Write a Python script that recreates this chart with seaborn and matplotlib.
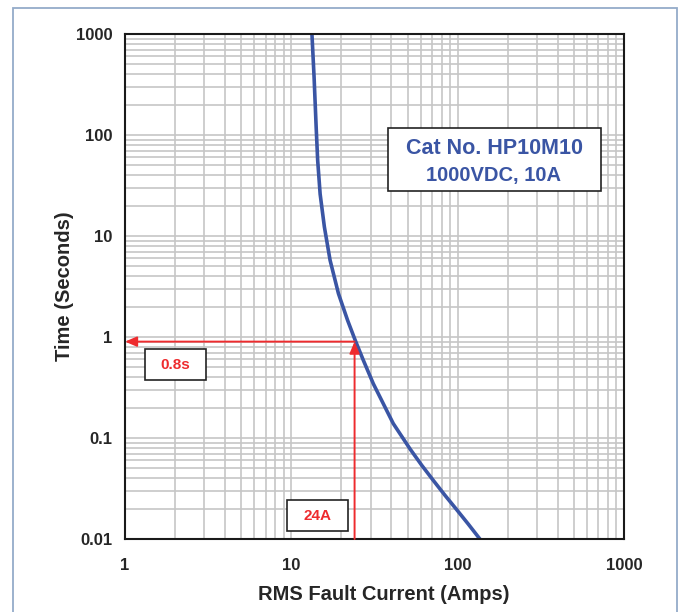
import matplotlib
matplotlib.use("Agg")
import matplotlib.pyplot as plt
from matplotlib.patches import Rectangle
from matplotlib.ticker import LogLocator, NullFormatter, FixedLocator, FixedFormatter
import seaborn as sns
import pandas as pd

# ---- data ----
current_amps = [13.3, 13.7, 14.1, 14.4, 14.9, 15.8, 17.1, 19.2, 21.8, 24.2,
                27.1, 31.1, 35.7, 41.0, 51.7, 60.8, 71.4, 84.0, 98.7, 116.0, 136.0]
time_s = [1000, 375, 120, 56, 26, 12.3, 5.75, 2.69, 1.46, 0.93,
          0.588, 0.345, 0.219, 0.139, 0.078, 0.0537, 0.038, 0.027, 0.0195, 0.014, 0.01]
x_ticks = [1, 10, 100, 1000]
x_tick_labels = ["1", "10", "100", "1000"]
y_ticks = [0.01, 0.1, 1, 10, 100, 1000]
y_tick_labels = ["0.01", "0.1", "1", "10", "100", "1000"]
marker_current = 24
marker_time = 0.9
label_time = "0.8s"
label_current = "24A"
title_lines = ["Cat No. HP10M10", "1000VDC, 10A"]
x_label = "RMS Fault Current (Amps)"
y_label = "Time (Seconds)"

df = pd.DataFrame({"I": current_amps, "t": time_s})

sns.set_style("white")
plt.rcParams["font.family"] = ["Liberation Sans", "DejaVu Sans"]
plt.rcParams["font.weight"] = "bold"

fig = plt.figure(figsize=(6.9, 6.12), dpi=100)
fig.patch.set_facecolor("white")

# outer frame
fig.add_artist(Rectangle((13 / 690, -0.05), (677 - 13) / 690, 1.05 - 8 / 612,
                         transform=fig.transFigure, fill=False,
                         edgecolor="#94abc9", linewidth=1.3))

ax = fig.add_axes([125 / 690, 1 - 539 / 612, 499 / 690, 505 / 612])
ax.set_xscale("log")
ax.set_yscale("log")
ax.set_xlim(1, 1000)
ax.set_ylim(0.01, 1000)

ax.xaxis.set_major_locator(FixedLocator(x_ticks))
ax.xaxis.set_major_formatter(FixedFormatter(x_tick_labels))
ax.yaxis.set_major_locator(FixedLocator(y_ticks))
ax.yaxis.set_major_formatter(FixedFormatter(y_tick_labels))
ax.xaxis.set_minor_locator(LogLocator(base=10, subs=range(2, 10), numticks=20))
ax.yaxis.set_minor_locator(LogLocator(base=10, subs=range(2, 10), numticks=20))
ax.xaxis.set_minor_formatter(NullFormatter())
ax.yaxis.set_minor_formatter(NullFormatter())
ax.grid(True, which="both", color="#c6c6c6", linewidth=1.2)
ax.set_axisbelow(True)
ax.tick_params(which="both", length=0)
ax.tick_params(axis="x", pad=14, labelsize=12)
ax.tick_params(axis="y", pad=9, labelsize=12)
for lab in ax.get_xticklabels() + ax.get_yticklabels():
    lab.set_fontweight("bold")
for s in ax.spines.values():
    s.set_color("#1a1a1a")
    s.set_linewidth(1.5)

sns.lineplot(data=df, x="I", y="t", ax=ax, color="#3a55a4", linewidth=2.6,
             sort=False, estimator=None)
for ln in ax.lines:
    ln.set_solid_joinstyle("round")

ax.set_xlabel(x_label, fontsize=14.5, fontweight="bold", labelpad=8)
ax.xaxis.label.set_x((383.5 - 125) / 499)
ax.set_ylabel(y_label, fontsize=14.5, fontweight="bold", labelpad=1)

red = "#ee2b2e"
ax.annotate("", xy=(1.0, marker_time), xytext=(marker_current, marker_time),
            arrowprops=dict(arrowstyle="-|>,head_length=0.7,head_width=0.3",
                            color=red, lw=1.4, shrinkA=0, shrinkB=0))
ax.annotate("", xy=(marker_current, marker_time), xytext=(marker_current, 0.01),
            arrowprops=dict(arrowstyle="-|>,head_length=0.7,head_width=0.3",
                            color=red, lw=1.4, shrinkA=0, shrinkB=0))

def box(x0, x1, y0, y1):
    ax.add_patch(Rectangle(((x0 - 125) / 499, (539 - y1) / 505), (x1 - x0) / 499,
                           (y1 - y0) / 505, transform=ax.transAxes, facecolor="white",
                           edgecolor="#222222", linewidth=1.2, zorder=5))

box(145, 206, 349, 380)
ax.text((175.5 - 125) / 499, (539 - 365) / 505, label_time, transform=ax.transAxes,
        ha="center", va="center", color=red, fontsize=11, fontweight="bold", zorder=6)
box(287, 348, 500, 531)
ax.text((317.5 - 125) / 499, (539 - 516) / 505, label_current, transform=ax.transAxes,
        ha="center", va="center", color=red, fontsize=11, fontweight="bold", zorder=6)
box(388, 601, 128, 191)
ax.text((494 - 125) / 499, (539 - 149) / 505, title_lines[0], transform=ax.transAxes,
        ha="center", va="center", color="#3a55a4", fontsize=15.5, fontweight="bold", zorder=6)
ax.text((494 - 125) / 499, (539 - 175) / 505, title_lines[1], transform=ax.transAxes,
        ha="center", va="center", color="#3a55a4", fontsize=14.5, fontweight="bold", zorder=6)

fig.savefig("out.png", dpi=100)
